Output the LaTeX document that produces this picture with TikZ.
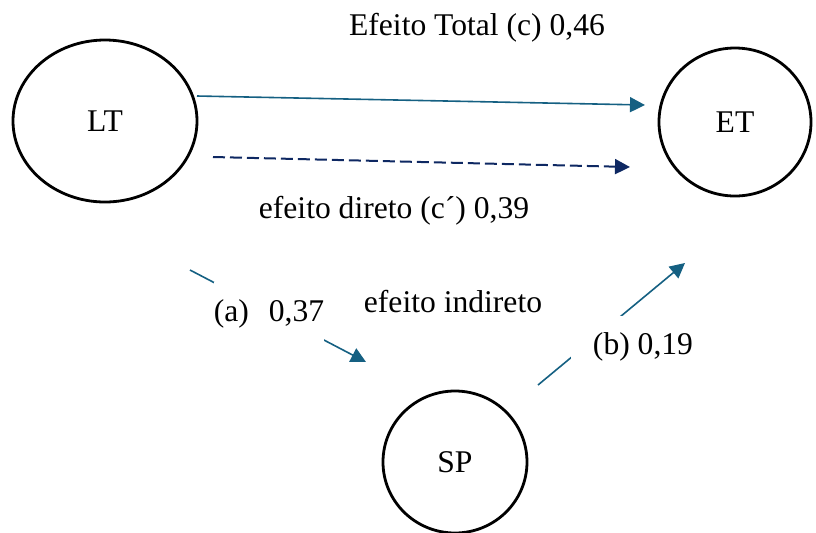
\documentclass[tikz,border=0pt]{standalone}
\usepackage{fontspec}
\setmainfont{Liberation Serif}
\usetikzlibrary{arrows.meta,shapes.geometric}
\definecolor{effblue}{RGB}{21,96,130}
\definecolor{effnavy}{RGB}{14,40,98}

\begin{document}
\begin{tikzpicture}[x=0.5pt,y=-0.5pt,
  font=\fontsize{15.8}{19}\selectfont,
  latent/.style={draw,ellipse,line width=1.4pt,inner sep=0pt},
  effarrow/.style={effblue,line width=0.8pt,-{Triangle[length=7.5pt,width=7.5pt]}},
  dirarrow/.style={effnavy,line width=1pt,dash pattern=on 6pt off 2.5pt,-{Triangle[length=7.5pt,width=7.5pt]}},
  efflabel/.style={fill=white,inner xsep=0pt,inner ysep=9pt}]
\useasboundingbox (0,0) rectangle (816,532);

% Variables
\node[latent,minimum width=92pt,minimum height=81pt] (LT) at (105,121) {LT};
\node[latent,minimum width=76pt,minimum height=74pt] (ET) at (735,122) {ET};
\node[latent,minimum width=72pt,minimum height=71pt] (SP) at (455,462) {SP};

% Arrow ends
\coordinate (tot1) at (197,96);
\coordinate (tot2) at (645,105);
\coordinate (dir1) at (213,157);
\coordinate (dir2) at (630,167);
\coordinate (a1) at (190,270);
\coordinate (a2) at (366,362);
\coordinate (b1) at (538,385);
\coordinate (b2) at (685,263);

% Total and direct effect
\draw[effarrow] (tot1) -- (tot2);
\draw[dirarrow] (dir1) -- (dir2);
\node (totlbl) at (477,28) {Efeito Total (c) 0,46};
\node (dirlbl) at (394,211) {efeito direto (c´) 0,39};

% Indirect effect
\draw[effarrow] (a1) -- (a2);
\draw[effarrow] (b1) -- (b2);
\node (indlbl) at (453,302) {efeito indireto};
\node[efflabel] (albl) at (269,314) {(a)\hspace{0.63em}0,37};
\node[efflabel,inner xsep=11pt,inner ysep=8.5pt] (blbl) at (643,347) {(b) 0,19};
\end{tikzpicture}
\end{document}
